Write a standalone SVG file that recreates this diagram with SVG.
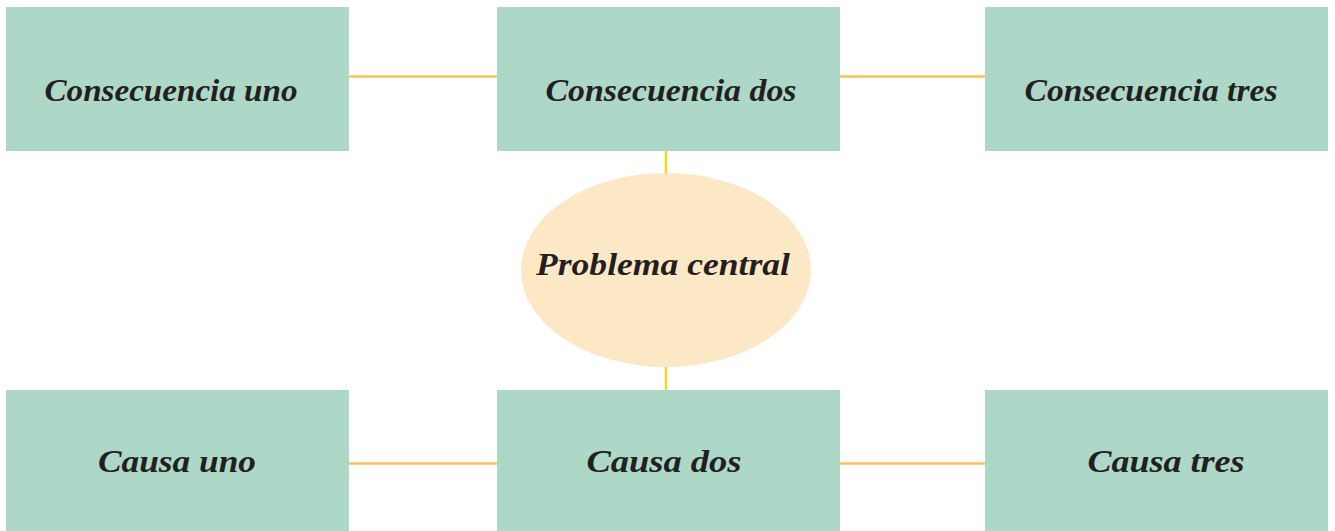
<svg xmlns="http://www.w3.org/2000/svg" width="1335" height="531" viewBox="0 0 1335 531">
<style>
.box{fill:#ADD8C8}
.ell{fill:#FDE8C6}
.h{stroke:#FDC15A;stroke-width:2.5;fill:none}
.v{stroke:#FFD11A;stroke-width:2.5;fill:none}
text{font-family:"Liberation Serif","DejaVu Serif",serif;font-style:italic;font-weight:bold;font-size:32px;fill:#231F20;text-anchor:middle}
</style>
<rect width="1335" height="531" fill="#ffffff"/>
<g id="connectors">
<line class="h" x1="349" y1="76.5" x2="497" y2="76.5"/>
<line class="h" x1="840" y1="76.5" x2="985" y2="76.5"/>
<line class="h" x1="349" y1="463.5" x2="497" y2="463.5"/>
<line class="h" x1="840" y1="463.5" x2="985" y2="463.5"/>
<line class="v" x1="666" y1="151" x2="666" y2="174"/>
<line class="v" x1="666" y1="366" x2="666" y2="390"/>
</g>
<g id="consecuencia-uno"><rect class="box" x="6" y="7" width="343" height="144"/><text x="171" y="101" textLength="253" lengthAdjust="spacingAndGlyphs">Consecuencia uno</text></g>
<g id="consecuencia-dos"><rect class="box" x="497" y="7" width="343" height="144"/><text x="671" y="101" textLength="251" lengthAdjust="spacingAndGlyphs">Consecuencia dos</text></g>
<g id="consecuencia-tres"><rect class="box" x="985" y="7" width="343" height="144"/><text x="1151" y="101" textLength="253" lengthAdjust="spacingAndGlyphs">Consecuencia tres</text></g>
<g id="problema-central"><ellipse class="ell" cx="666" cy="270" rx="145" ry="97"/><text x="663" y="275" textLength="254" lengthAdjust="spacingAndGlyphs">Problema central</text></g>
<g id="causa-uno"><rect class="box" x="6" y="390" width="343" height="141"/><text x="177" y="472" textLength="158" lengthAdjust="spacingAndGlyphs">Causa uno</text></g>
<g id="causa-dos"><rect class="box" x="497" y="390" width="343" height="141"/><text x="664" y="472" textLength="155" lengthAdjust="spacingAndGlyphs">Causa dos</text></g>
<g id="causa-tres"><rect class="box" x="985" y="390" width="343" height="141"/><text x="1166" y="472" textLength="157" lengthAdjust="spacingAndGlyphs">Causa tres</text></g>
</svg>
